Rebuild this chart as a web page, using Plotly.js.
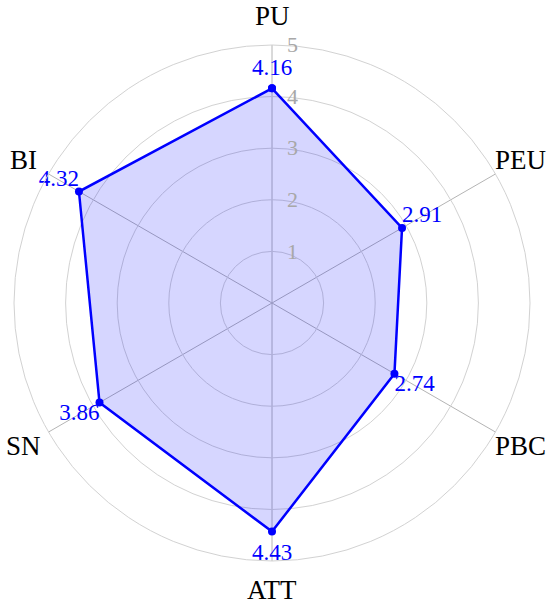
<!DOCTYPE html>
<html>
<head>
<meta charset="utf-8">
<script src="https://cdn.plot.ly/plotly-3.0.1.min.js"></script>
<style>html,body{margin:0;padding:0;background:#fff;}#chart{width:550px;height:609px;}</style>
</head>
<body>
<div id="chart"></div>
<script>
const categories = ["PU", "PEU", "PBC", "ATT", "SN", "BI"];
const values = [4.16, 2.91, 2.74, 4.43, 3.86, 4.32];
const radialTicks = [1, 2, 3, 4, 5];
const textPositions = ["top center", "top right", "bottom right", "bottom center", "bottom left", "top left"];
const labelGap = [10, 0, 0, 16, 0, 0];
const categoryLabelRadius = 5.56;

const W = 550, H = 609;
const domX = [14 / W, 530 / W];
const domY = [48 / H, 564 / H];
const rMax = 5;

const theta = categories.concat([categories[0]]);
const r = values.concat([values[0]]);
const labels = values.map(v => v.toFixed(2));

const shape = {
  type: "scatterpolar",
  r: r,
  theta: theta,
  mode: "lines+markers",
  fill: "toself",
  fillcolor: "rgba(0,0,255,0.16)",
  line: {color: "#0000ff", width: 2.5},
  marker: {color: "#0000ff", size: 8},
  cliponaxis: false,
  hoverinfo: "skip"
};

const valueLabels = {
  type: "scatterpolar",
  r: values,
  theta: categories,
  mode: "markers+text",
  marker: {size: labelGap, opacity: 0, color: "#0000ff"},
  text: labels,
  textposition: textPositions,
  textfont: {family: "Liberation Serif", size: 23, color: "#0000ff"},
  cliponaxis: false,
  hoverinfo: "skip"
};

// category labels placed just outside the outer circle, at each category's angle
const cxp = (domX[0] + domX[1]) / 2;
const cyp = (domY[0] + domY[1]) / 2;
const radPx = (domX[1] - domX[0]) * W / 2;
const annotations = categories.map((c, i) => {
  const ang = (90 - i * 360 / categories.length) * Math.PI / 180;
  const d = radPx * categoryLabelRadius / rMax;
  return {
    text: c,
    xref: "paper", yref: "paper",
    x: cxp + d * Math.cos(ang) / W,
    y: cyp + d * Math.sin(ang) / H,
    xanchor: "center", yanchor: "middle",
    showarrow: false,
    font: {family: "Liberation Serif", size: 27, color: "#000"}
  };
});

const layout = {
  width: W,
  height: H,
  margin: {l: 0, r: 0, t: 0, b: 0},
  paper_bgcolor: "#fff",
  showlegend: false,
  font: {family: "Liberation Serif"},
  annotations: annotations,
  polar: {
    domain: {x: domX, y: domY},
    bgcolor: "#fff",
    radialaxis: {
      range: [0, rMax],
      tickvals: radialTicks,
      ticktext: radialTicks.map(String),
      angle: 90,
      tickangle: 90,
      side: "clockwise",
      showline: false,
      ticks: "outside",
      ticklen: 10,
      tickcolor: "rgba(0,0,0,0)",
      gridcolor: "#d2d2d2",
      gridwidth: 1,
      tickfont: {family: "Liberation Serif", size: 22, color: "#a8a8a8"}
    },
    angularaxis: {
      direction: "clockwise",
      rotation: 90,
      linecolor: "#d2d2d2",
      linewidth: 1,
      gridcolor: "#b4b4b4",
      ticks: "",
      showticklabels: false
    }
  }
};

Plotly.newPlot("chart", [shape, valueLabels], layout, {displayModeBar: false, staticPlot: true});
</script>
</body>
</html>
